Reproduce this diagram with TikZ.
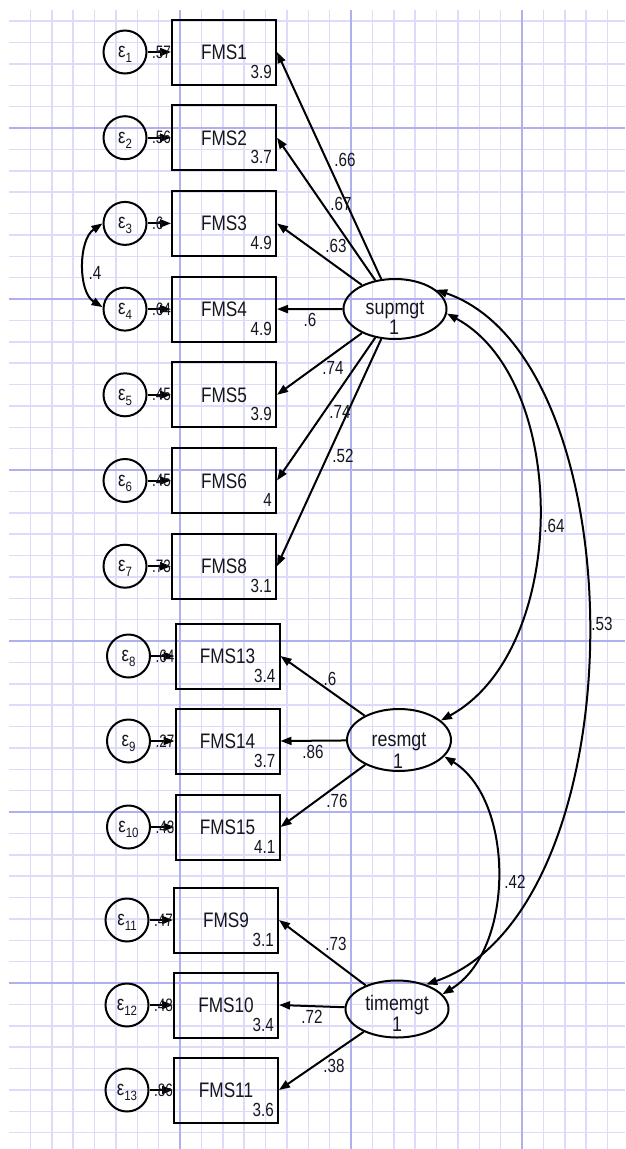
\documentclass[tikz,border=0pt]{standalone}
\usepackage{fontspec}
\setmainfont{Liberation Sans}
\usepackage{graphicx}
\usetikzlibrary{arrows.meta,shapes.geometric}
\definecolor{gridminor}{RGB}{220,220,250}
\definecolor{gridmajor}{RGB}{176,176,238}
\definecolor{ink}{RGB}{22,22,32}
\newcommand{\sqz}[2]{\scalebox{#1}[1]{#2}}
\begin{document}
\begin{tikzpicture}[x=1pt,y=-1pt,
  obs/.style={draw=black,line width=2pt,minimum width=104pt,minimum height=65pt,inner sep=0pt},
  errc/.style={draw=black,circle,line width=2pt,minimum size=43pt,inner sep=0pt},
  lat/.style={draw=black,ellipse,line width=2pt,minimum width=103pt,minimum height=60pt,inner sep=0pt},
  ld/.style={line width=2pt,draw=black,-{Triangle[length=11pt,width=8pt]}},
  covar/.style={line width=2pt,draw=black,{Triangle[length=11pt,width=8pt]}-{Triangle[length=11pt,width=8pt]}},
  nmtxt/.style={inner sep=0pt,text=ink,font=\fontsize{21}{21}\selectfont},
  numtxt/.style={inner sep=0pt,text=ink,font=\fontsize{19}{19}\selectfont},
  evtxt/.style={inner sep=0pt,text=ink,font=\fontsize{18}{18}\selectfont},
  epstxt/.style={inner sep=0pt,text=ink,font=\fontsize{21}{21}\selectfont},
  gminor/.style={draw=gridminor,line width=1.5pt},
  gmajor/.style={draw=gridmajor,line width=1.5pt},
]
\useasboundingbox (0,0) rectangle (625,1149);
\fill[white] (0,0) rectangle (625,1149);
% grid
\foreach \k in {-7,...,20} {\draw[gminor] ({180+21.375*\k},10) -- ({180+21.375*\k},1149);}
\foreach \k in {-5,...,47} {\draw[gminor] (9,{128+21.375*\k}) -- (625,{128+21.375*\k});}
\foreach \k in {0,8,16} {\draw[gmajor] ({180+21.375*\k},10) -- ({180+21.375*\k},1149);}
\foreach \k in {0,8,16,24,32,40} {\draw[gmajor] (9,{128+21.375*\k}) -- (625,{128+21.375*\k});}

% observed variables and errors
\foreach \bx/\ex/\y/\lbl/\mn/\ev/\i in {
  224/125/52/FMS1/3.9/.57/1,
  224/125/137.7/FMS2/3.7/.56/2,
  224/125/223.4/FMS3/4.9/.6/3,
  224/125/309.1/FMS4/4.9/.64/4,
  224/125/394.8/FMS5/3.9/.45/5,
  224/125/480.5/FMS6/4/.45/6,
  224/125/566.2/FMS8/3.1/.73/7,
  227.5/128.5/656/FMS13/3.4/.64/8,
  227.5/128.5/741/FMS14/3.7/.27/9,
  227.5/128.5/827/FMS15/4.1/.43/10,
  226/127/920/FMS9/3.1/.47/11,
  226/127/1005/FMS10/3.4/.48/12,
  226/127/1090/FMS11/3.6/.86/13} {
  \node[obs] (b\i) at (\bx,\y) {};
  \node[nmtxt,anchor=base] (bl\i) at (\bx,\y+7.5) {\sqz{0.82}{\lbl}};
  \node[numtxt,anchor=base east] (bm\i) at (\bx+48,\y+26) {\sqz{0.8}{\mn}};
  \node[errc] (e\i) at (\ex,\y) {};
  \node[epstxt,anchor=base] (el\i) at (\ex,\y+5.5) {\sqz{0.8}{ε}\raisebox{-5pt}{\fontsize{13.5}{13.5}\selectfont\sqz{0.85}{\i}}};
  \draw[ld] (e\i) -- (b\i);
  \node[evtxt,anchor=base west] (ev\i) at (\ex+27,\y+6) {\sqz{0.75}{\ev}};
}

% latent variables
\node[lat] (sup) at (395,309) {};
\node[nmtxt] (supn) at (395,310) {\sqz{0.85}{supmgt}};
\node[nmtxt] (sup1) at (394,327) {\sqz{0.85}{1}};
\node[lat,minimum height=62pt,minimum width=104pt] (res) at (399,740) {};
\node[nmtxt] (resn) at (399,742) {\sqz{0.85}{resmgt}};
\node[nmtxt] (res1) at (398,761) {\sqz{0.85}{1}};
\node[lat,minimum height=57pt] (time) at (397,1009) {};
\node[nmtxt] (timen) at (397,1005) {\sqz{0.85}{timemgt}};
\node[nmtxt] (time1) at (397,1024) {\sqz{0.85}{1}};

% loadings
\foreach \i in {1,...,7} {\draw[ld] (sup) -- (b\i.east);}
\foreach \i in {8,9,10} {\draw[ld] (res) -- (b\i.east);}
\foreach \i in {11,12,13} {\draw[ld] (time) -- (b\i.east);}

\foreach \t/\x/\y/\n in {.66/345/160/1,.67/341/204/2,.63/336/246/3,.6/310/320/4,.74/333/368/5,.74/340/412/6,.52/343/456/7,
  .6/330/679/8,.86/313/752/9,.76/337/801/10,.73/336/944/11,.72/312/1017/12,.38/334/1066/13} {
  \node[numtxt] (lw\n) at (\x,\y) {\sqz{0.8}{\t}};
}

% covariances
\draw[covar] (e3.180) .. controls (78,240) and (78,292) .. (e4.175);
\node[numtxt] (c34) at (95,273) {\sqz{0.8}{.4}};
\draw[covar] (sup.-5) .. controls (570,380) and (570,650) .. (res.25);
\draw[covar] (sup.25) .. controls (640,360) and (640,910) .. (time.40);
\draw[covar] (res.-20) .. controls (515,800) and (515,950) .. (time.18);
\node[numtxt] (csr) at (554,526) {\sqz{0.8}{.64}};
\node[numtxt] (cst) at (602,624) {\sqz{0.8}{.53}};
\node[numtxt] (crt) at (515,882) {\sqz{0.8}{.42}};
\end{tikzpicture}
\end{document}
